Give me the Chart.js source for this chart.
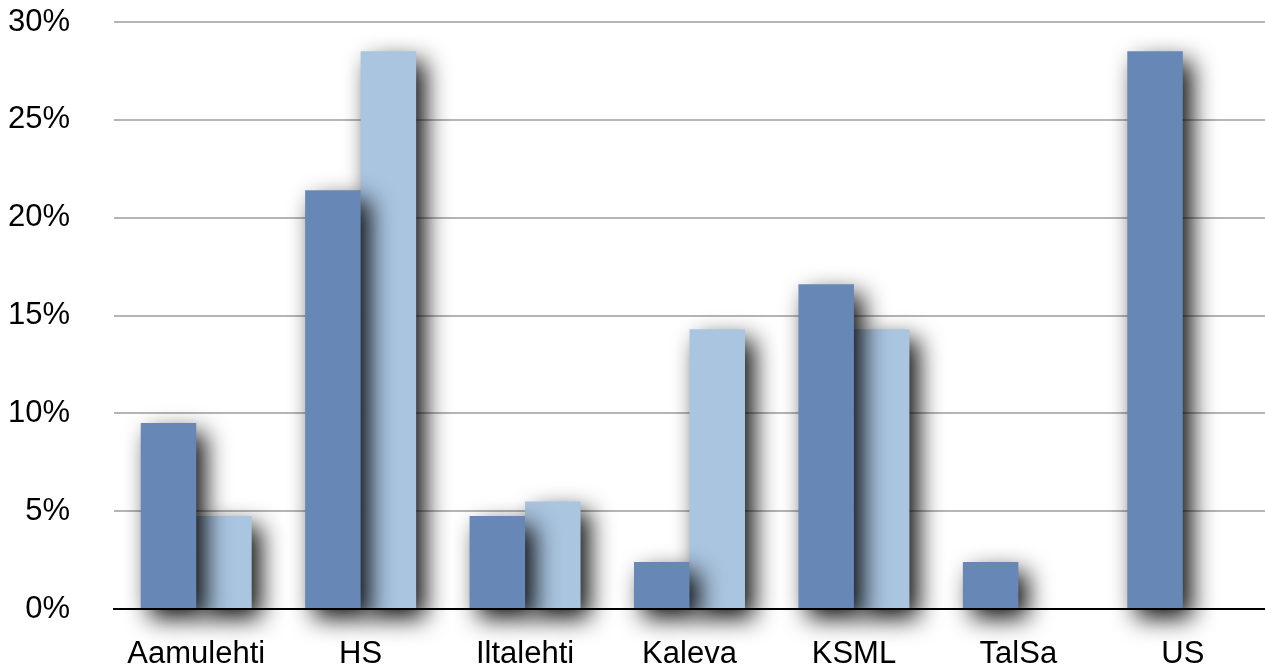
<!DOCTYPE html>
<html>
<head>
<meta charset="utf-8">
<script src="https://cdn.jsdelivr.net/npm/chart.js@4"></script>
<style>
html,body{margin:0;padding:0;background:#fff;}
#wrap{width:1265px;height:671px;position:relative;}
</style>
</head>
<body>
<div id="wrap"><canvas id="c" width="1265" height="671"></canvas></div>
<script>
const categories = ["Aamulehti","HS","Iltalehti","Kaleva","KSML","TalSa","US"];
const seriesA = [9.5, 21.4, 4.75, 2.4, 16.6, 2.4, 28.5];
const seriesB = [4.75, 28.5, 5.5, 14.3, 14.3, null, null];
const yTicks = [0, 5, 10, 15, 20, 25, 30];

const shadowPlugin = {
  id: 'barShadow',
  beforeDatasetsDraw(chart) {
    const ctx = chart.ctx;
    ctx.save();
    ctx.shadowColor = 'rgba(0,0,0,0.95)';
    ctx.shadowBlur = 24;
    ctx.shadowOffsetX = 9;
    ctx.shadowOffsetY = 10;
  },
  afterDatasetsDraw(chart) {
    chart.ctx.restore();
  }
};

const FONT = 'Liberation Sans, Arial, Helvetica, sans-serif';

new Chart(document.getElementById('c'), {
  type: 'bar',
  data: {
    labels: categories,
    datasets: [
      { label: 'A', data: seriesA, backgroundColor: '#6787b6', borderWidth: 0, clip: false },
      { label: 'B', data: seriesB, backgroundColor: '#aac5e0', borderWidth: 0, clip: false }
    ]
  },
  options: {
    responsive: false,
    animation: false,
    devicePixelRatio: 1,
    layout: { padding: { top: 0, right: 0, left: 0, bottom: 0 } },
    plugins: { legend: { display: false }, tooltip: { enabled: false } },
    datasets: { bar: { categoryPercentage: 0.675, barPercentage: 1.0 } },
    scales: {
      x: {
        z: 1,
        grid: { display: false, drawTicks: false },
        border: { display: true, color: '#000', width: 2 },
        ticks: { color: '#000', font: { family: FONT, size: 31 }, padding: 27, maxRotation: 0 },
        afterFit(scale) { scale.height = 62; scale.paddingLeft = 0; scale.paddingRight = 0; }
      },
      y: {
        min: 0, max: 30,
        afterBuildTicks(scale) { scale.ticks = yTicks.map(v => ({ value: v })); },
        grid: { color: '#b5b5b5', lineWidth: 2, drawTicks: false },
        border: { display: false },
        ticks: {
          color: '#000',
          font: { family: FONT, size: 31 },
          padding: 44,
          callback: v => v + '%'
        },
        afterFit(scale) { scale.width = 114; scale.paddingTop = 22; scale.paddingBottom = 0; }
      }
    }
  },
  plugins: [shadowPlugin]
});
</script>
</body>
</html>
